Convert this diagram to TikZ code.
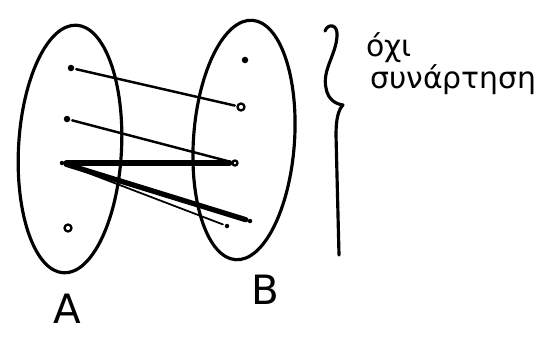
\documentclass[tikz,border=0pt]{standalone}
\usepackage{fontspec}
\setmainfont{DejaVu Sans}
\usetikzlibrary{shapes.geometric}
\begin{document}
\begin{tikzpicture}[x=0.02cm, y=-0.02cm, line cap=round, line join=round,
    dot/.style={circle, fill, inner sep=0pt, minimum size=0.13cm},
    hollow/.style={circle, draw, line width=1.3pt, inner sep=0pt, minimum size=0.14cm},
    link/.style={line width=1.4pt, shorten <=1pt, shorten >=1pt}]
  \useasboundingbox (0,0) rectangle (557,338);
  % the two sets
  \node[ellipse, draw, line width=1.8pt, minimum width=2.06cm, minimum height=4.96cm, rotate=-3] (setA) at (70,149) {};
  \node[ellipse, draw, line width=1.8pt, minimum width=2.02cm, minimum height=4.8cm, rotate=-4] (setB) at (244,140) {};
  \node[font=\fontsize{23}{26}\selectfont] (labA) at (67,309) {A};
  \node[font=\fontsize{23}{26}\selectfont] (labB) at (265,290) {B};
  % elements of A
  \node[dot] (a1) at (71,68) {};
  \node[dot] (a2) at (67,119) {};
  \node[dot, minimum size=0.09cm] (a3) at (62,163) {};
  \node[hollow] (a4) at (68,228) {};
  % elements of B
  \node[dot] (b1) at (245,60) {};
  \node[hollow] (b2) at (241,107) {};
  \node[hollow, minimum size=0.1cm] (b3) at (235,163) {};
  \node[dot, minimum size=0.09cm] (b4) at (250,221) {};
  \node[dot, minimum size=0.09cm] (b5) at (227,226) {};
  % mappings
  \draw[link] (a1) -- (b2);
  \draw[link] (a2) -- (b3);
  \draw[link, line width=3.2pt] (a3) -- (b3);
  \draw[link, line width=3pt] (a3) -- (b4);
  \draw[link, line width=1pt] (a3) -- (b5);
  % brace and remark
  \draw[line width=1.8pt] (325,31) .. controls (328,23) and (338,24) .. (337,36)
    .. controls (336,55) and (322,70) .. (326,88) .. controls (328,100) and (336,104) .. (343,105)
    .. controls (338,110) and (336,120) .. (336,135) -- (339,255);
  \node[anchor=base west, font=\fontsize{17}{20}\selectfont, inner sep=0pt] (no) at (366,56) {όχι};
  \node[anchor=base west, font=\fontsize{17}{20}\selectfont, inner sep=0pt] (func) at (370,88) {συνάρτηση};
\end{tikzpicture}
\end{document}
